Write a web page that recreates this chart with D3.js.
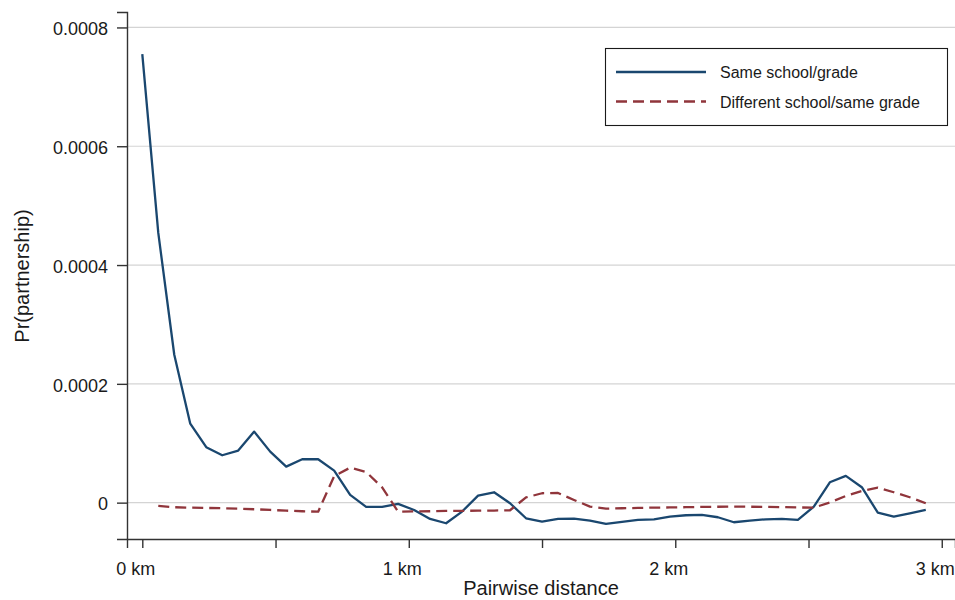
<!DOCTYPE html>
<html lang="en">
<head>
  <meta charset="UTF-8">
  <title>Pr(partnership) by pairwise distance</title>
  <script src="https://cdn.jsdelivr.net/npm/d3@7"></script>
  <style>
    body { margin: 0; background: #fff; }
    text { font-family: "Liberation Sans", Arial, Helvetica, sans-serif; fill: #1a1a1a; }
  </style>
</head>
<body>
<div id="grafica"></div>

<script>
// pairwise distance in km (one point every 0.06 km)
distancias = [0, 0.06, 0.12, 0.18, 0.24, 0.30, 0.36, 0.42, 0.48, 0.54,
              0.60, 0.66, 0.72, 0.78, 0.84, 0.90, 0.96, 1.02, 1.08, 1.14,
              1.20, 1.26, 1.32, 1.38, 1.44, 1.50, 1.56, 1.62, 1.68, 1.74,
              1.80, 1.86, 1.92, 1.98, 2.04, 2.10, 2.16, 2.22, 2.28, 2.34,
              2.40, 2.46, 2.52, 2.58, 2.64, 2.70, 2.76, 2.82, 2.88, 2.94]

// Same school/grade
mismaEscuela = [0.000755, 0.000454, 0.000249, 0.000133, 0.0000933, 0.0000798, 0.0000876, 0.0001196, 0.0000859, 0.0000606,
                0.0000731, 0.0000731, 0.0000539, 0.000013, -0.0000072, -0.0000072, -0.000002, -0.0000123, -0.0000274, -0.0000347,
                -0.000015, 0.0000118, 0.0000175, -0.000001, -0.0000263, -0.000032, -0.0000274, -0.000027, -0.0000303, -0.0000359,
                -0.0000325, -0.0000291, -0.000028, -0.0000236, -0.0000212, -0.0000207, -0.0000246, -0.000033, -0.0000303, -0.000028,
                -0.0000274, -0.0000291, -0.0000067, 0.0000343, 0.000045, 0.000026, -0.0000168, -0.0000236, -0.0000179, -0.0000123]

// Different school/same grade (no value at 0 km)
otraEscuela = [null, -0.0000056, -0.0000077, -0.0000084, -0.0000089, -0.0000094, -0.0000101, -0.0000111, -0.0000123, -0.0000135,
               -0.0000145, -0.0000152, 0.0000445, 0.0000589, 0.0000517, 0.0000256, -0.0000152, -0.0000148, -0.0000145, -0.000014,
               -0.0000138, -0.0000135, -0.0000133, -0.0000128, 0.0000088, 0.0000158, 0.0000163, 0.0000045, -0.0000067, -0.0000101,
               -0.0000094, -0.0000089, -0.0000084, -0.0000081, -0.0000077, -0.0000072, -0.0000069, -0.0000067, -0.0000069, -0.0000072,
               -0.0000076, -0.0000081, -0.0000084, 0.0000003, 0.0000113, 0.0000197, 0.0000253, 0.0000175, 0.0000091, -0.000001]

yTicks = [0, 0.0002, 0.0004, 0.0006, 0.0008]
yTickLabels = ['0', '0.0002', '0.0004', '0.0006', '0.0008']
xTicks = [0, 0.5, 1, 1.5, 2, 2.5, 3]
xTickLabels = ['0 km', '', '1 km', '', '2 km', '', '3 km']

series = [
  { nombre: 'Same school/grade', valores: mismaEscuela, color: '#1a476f', dash: null },
  { nombre: 'Different school/same grade', valores: otraEscuela, color: '#90353b', dash: '11,6' }
]

ancho_total = 955
alto_total  = 600
margin = { left: 127, right: 0, top: 12, bottom: 61 }

svg = d3
        .select('#grafica')
        .append('svg')
        .attr('width', ancho_total)
        .attr('height', alto_total)

x = d3
      .scaleLinear()
      .domain([-0.0574, 3.0497])
      .range([margin.left, ancho_total - margin.right])
y = d3
      .scaleLinear()
      .domain([-0.0000612, 0.000826])
      .range([alto_total - margin.bottom, margin.top])

// gridlines
svg.append('g')
   .selectAll('line')
   .data(yTicks)
   .join('line')
     .attr('x1', margin.left)
     .attr('x2', ancho_total)
     .attr('y1', d => y(d))
     .attr('y2', d => y(d))
     .attr('stroke', '#d4d4d4')
     .attr('stroke-width', 1.2)

// y axis
yAxisCall = d3.axisLeft(y)
              .tickValues(yTicks)
              .tickFormat((d, i) => yTickLabels[i])
              .tickSizeOuter(0)
              .tickSize(10)
              .tickPadding(9)
yAxis = svg.append('g')
           .attr('transform', `translate(${margin.left}, 0)`)
           .call(yAxisCall)
yAxis.select('.domain').attr('stroke', '#333').attr('stroke-width', 1.4)
yAxis.selectAll('.tick line').attr('stroke', '#333').attr('stroke-width', 1.4)
yAxis.selectAll('.tick text')
     .attr('font-size', 18)
     .attr('dy', '0.4em')
     .style('font-family', '"Liberation Sans", Arial, sans-serif')
     .attr('fill', '#1a1a1a')

// x axis
xAxisCall = d3.axisBottom(x)
              .tickValues(xTicks)
              .tickFormat((d, i) => xTickLabels[i])
              .tickSizeOuter(0)
              .tickSize(9)
              .tickPadding(14)
xAxis = svg.append('g')
           .attr('transform', `translate(0, ${alto_total - margin.bottom})`)
           .call(xAxisCall)
xAxis.select('.domain').attr('stroke', '#333').attr('stroke-width', 1.4)
xAxis.selectAll('.tick line').attr('stroke', '#333').attr('stroke-width', 1.4)
xAxis.selectAll('.tick text')
     .attr('font-size', 18)
     .attr('dx', -7)
     .style('font-family', '"Liberation Sans", Arial, sans-serif')
     .attr('fill', '#1a1a1a')

// axis titles
svg.append('text')
   .attr('x', (margin.left + ancho_total) / 2)
   .attr('y', 595)
   .attr('text-anchor', 'middle')
   .attr('font-size', 20)
   .text('Pairwise distance')

svg.append('text')
   .attr('transform', 'translate(29, 276) rotate(-90)')
   .attr('text-anchor', 'middle')
   .attr('font-size', 20)
   .text('Pr(partnership)')

// lines
linea = valores => d3
          .line()
          .defined((d, i) => valores[i] !== null)
          .x((d, i) => x(distancias[i]))
          .y((d, i) => y(valores[i]))

series.forEach(s => {
  svg.append('path')
     .attr('fill', 'none')
     .attr('stroke', s.color)
     .attr('stroke-width', 2.3)
     .attr('stroke-linejoin', 'round')
     .attr('stroke-dasharray', s.dash)
     .attr('d', linea(s.valores)(s.valores))
})

// legend
leyenda = svg.append('g')
leyenda.append('rect')
       .attr('x', 605.5)
       .attr('y', 48.5)
       .attr('width', 342)
       .attr('height', 77)
       .attr('fill', '#fff')
       .attr('stroke', '#1a1a1a')
       .attr('stroke-width', 1.1)

series.forEach((s, i) => {
  ly = 72 + i * 29.5
  leyenda.append('line')
         .attr('x1', 616)
         .attr('x2', 706)
         .attr('y1', ly)
         .attr('y2', ly)
         .attr('stroke', s.color)
         .attr('stroke-width', 2.3)
         .attr('stroke-dasharray', s.dash)
  leyenda.append('text')
         .attr('x', 720)
         .attr('y', ly + 6)
         .attr('font-size', 16)
         .text(s.nombre)
})
</script>
</body>
</html>
